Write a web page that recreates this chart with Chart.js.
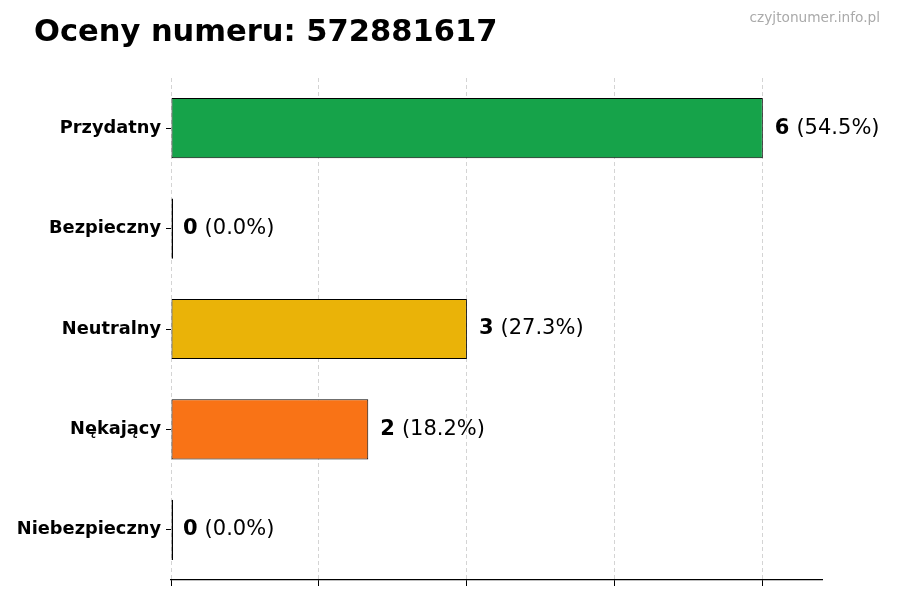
<!DOCTYPE html>
<html>
<head>
<meta charset="utf-8">
<script src="https://cdn.jsdelivr.net/npm/chart.js@4"></script>
<style>
  html, body { margin: 0; padding: 0; background: #fff; }
  #wrap { width: 900px; height: 600px; position: relative; }
</style>
</head>
<body>
<div id="wrap"><canvas id="myChart"></canvas></div>
<script>
const labels = ["Przydatny", "Bezpieczny", "Neutralny", "Nękający", "Niebezpieczny"];
const counts = [6, 0, 3, 2, 0];
const percents = ["54.5%", "0.0%", "27.3%", "18.2%", "0.0%"];
const colors = ["#16a34a", "#16a34a", "#eab308", "#f97316", "#dc2626"];
const titleText = "Oceny numeru: 572881617";
const siteText = "czyjtonumer.info.pl";

// tekst obok słupków + tytuł
const extras = {
  id: "extras",
  afterDraw(chart) {
    const ctx = chart.ctx;
    const meta = chart.getDatasetMeta(0);
    ctx.save();
    ctx.textBaseline = "middle";
    ctx.fillStyle = "#000";
    meta.data.forEach((bar, i) => {
      let x = (counts[i] === 0 ? chart.chartArea.left : bar.x) + 12;
      ctx.font = "bold 21px 'DejaVu Sans'";
      const v = String(counts[i]);
      ctx.fillText(v, x, bar.y);
      x += ctx.measureText(v).width + 7;
      ctx.font = "21px 'DejaVu Sans'";
      ctx.fillText("(" + percents[i] + ")", x, bar.y);
    });
    ctx.textBaseline = "alphabetic";
    ctx.font = "bold 30.5px 'DejaVu Sans'";
    ctx.fillText(titleText, 34, 41);
    ctx.font = "13.7px 'DejaVu Sans'";
    ctx.fillStyle = "#aaaaaa";
    ctx.textAlign = "right";
    ctx.fillText(siteText, 880, 22);
    ctx.restore();
  }
};

const ctx = document.getElementById("myChart");
new Chart(ctx, {
  type: "bar",
  data: {
    labels: labels,
    datasets: [{
      data: counts,
      backgroundColor: (c) => counts[c.dataIndex] === 0 ? "#000" : colors[c.dataIndex],
      borderColor: "#000",
      borderWidth: 1,
      borderSkipped: false,
      minBarLength: 2,
      barPercentage: 0.6,
      categoryPercentage: 1.0
    }]
  },
  options: {
    indexAxis: "y",
    responsive: true,
    maintainAspectRatio: false,
    animation: false,
    layout: { padding: { top: 78, right: 78, left: 0, bottom: 0 } },
    plugins: { legend: { display: false }, tooltip: { enabled: false } },
    scales: {
      x: {
        min: 0,
        max: 6.6,
        afterBuildTicks: (scale) => {
          scale.ticks = [0, 1.5, 3, 4.5, 6].map(v => ({ value: v }));
        },
        ticks: { display: true, callback: () => "" },
        grid: {
          color: "#d4d4d4",
          tickColor: "#000",
          tickBorderDash: [],
          tickLength: 6,
          lineWidth: 1
        },
        border: { display: true, color: "#000", width: 1.2, dash: [4, 3] },
        afterFit: (scale) => { scale.height = 20; }
      },
      y: {
        ticks: {
          color: "#000",
          font: { family: "DejaVu Sans", size: 17.8, weight: "bold" },
          padding: 5
        },
        grid: {
          offset: false,
          drawOnChartArea: false,
          tickColor: "#000",
          tickLength: 5
        },
        border: { display: false },
        afterFit: (scale) => { scale.width = 171; }
      }
    }
  },
  plugins: [extras]
});
</script>
</body>
</html>
